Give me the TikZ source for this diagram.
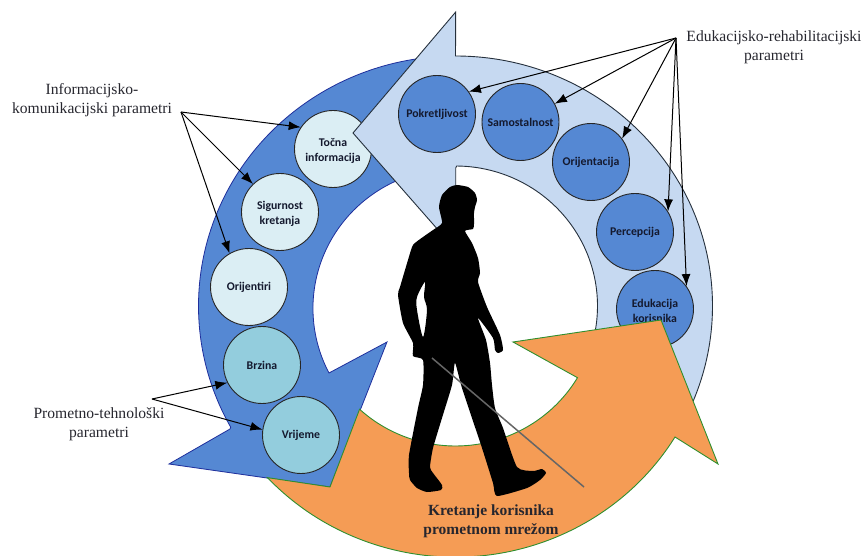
\documentclass[tikz,border=0pt]{standalone}
\usepackage{fontspec}
\setmainfont{Liberation Serif}
\newfontfamily\circfont{Carlito}
\usetikzlibrary{arrows.meta}
\definecolor{bluefill}{HTML}{5588D3}
\definecolor{blueedge}{HTML}{1F2F9C}
\definecolor{lightfill}{HTML}{C6D9F1}
\definecolor{lightedge}{HTML}{25303C}
\definecolor{palefill}{HTML}{DBEEF4}
\definecolor{tealfill}{HTML}{93CDDD}
\definecolor{orangefill}{HTML}{F59C55}
\definecolor{greenedge}{HTML}{2F8F2F}
\definecolor{labelink}{HTML}{26262E}
\definecolor{circink}{HTML}{14192E}
\newcommand{\dropline}{\rule{0pt}{11.5pt}}
\tikzset{
  disc/.style={circle,draw=black!85,line width=0.9pt,minimum size=77pt,inner sep=0pt,align=center,
    text=circink,font=\circfont\bfseries\fontsize{11.8}{15}\selectfont},
  discpale/.style={disc,fill=palefill},
  discteal/.style={disc,fill=tealfill},
  discblue/.style={disc,fill=bluefill},
  caption/.style={align=center,text=labelink,font=\fontsize{15.6}{19.3}\selectfont,inner sep=0pt},
  boldcaption/.style={align=center,text=labelink,font=\bfseries\fontsize{15.5}{19}\selectfont,inner sep=0pt},
  pointer/.style={-{Latex[length=12pt,width=9pt]},line width=1pt,black}
}
\begin{document}
\begin{tikzpicture}[x=1pt,y=-1pt]
\useasboundingbox (0,0) rectangle (863,556);
% blue arrow
\draw[fill=bluefill,draw=blueedge,line width=0.8pt,line join=miter]
  ({455.5+257*cos(265)},{306+250*sin(265)}) arc[start angle=265,end angle=151,x radius=257,y radius=250]
  -- (230,429) -- (169,464) -- (330,487) -- (387,342) -- (329,373)
  arc[start angle=152.5,end angle=250,x radius=142,y radius=140] -- cycle;
\node[discpale] (tocna) at (333,149) {\dropline Točna\\informacija};
\node[discpale] (sigurnost) at (280,212) {\dropline Sigurnost\\kretanja};
% light arrow
\draw[fill=lightfill,draw=lightedge,line width=0.9pt,line join=miter]
  (455.5,56) arc[start angle=-90,end angle=27,x radius=257,y radius=250]
  -- ({455.5+142*cos(25)},{306+140*sin(25)}) arc[start angle=25,end angle=-89.5,x radius=142,y radius=140]
  -- (455.7,168) -- (455.7,250) -- (353,133) -- (455.7,12) -- cycle;
\node[discblue] (pokret) at (437,114) {Pokretljivost};
\node[discblue] (samost) at (520.5,122) {Samostalnost};
\node[discblue] (orijentacija) at (591,162) {Orijentacija};
\node[discblue] (percepcija) at (635,232) {Percepcija};
\node[discblue] (edukacija) at (655,309) {\dropline Edukacija\\korisnika};
% orange arrow
\draw[fill=orangefill,draw=greenedge,line width=0.9pt,line join=miter]
  ({455.5+142*cos(132.5)},{306+140*sin(132.5)}) arc[start angle=132.5,end angle=30.8,x radius=142,y radius=140]
  -- (513,342) -- (661,320) -- (718,464) -- (675,437)
  arc[start angle=31.3,end angle=137,x radius=257,y radius=250]
  -- (330,487) -- cycle;
\node[discpale] (orijentiri) at (249,287) {Orijentiri};
\node[discteal] (brzina) at (262,365) {Brzina};
\node[discteal] (vrijeme) at (301,435) {Vrijeme};
% walking figure
\fill[black,even odd rule]
  plot[smooth cycle,tension=0.35] coordinates {
    (457,185) (468,187) (475,193) (477,200) (475,207) (474,213) (474,224) (473,229) (465,231)
    (472,243) (478,258) (480,273) (478,282) (487,307) (500,335) (503,350) (498,353) (495,350)
    (493,338) (478,318) (486,340) (490,363) (492,385) (495,408) (503,428) (517,467) (533,471) (542,469)
    (546,473) (540,480) (527,488) (497,496) (493,483) (482,448) (462,388) (455,363)
    (452,385) (442,418) (433,448) (430,467) (433,473) (442,485) (441,490) (427,492) (417,488) (410,480) (409,473)
    (409,455) (418,408) (423,385) (423,360) (413,356) (413,343) (403,323) (398,295) (400,287)
    (408,260) (413,245) (423,237) (433,230) (442,223) (439,207) (442,195) (450,187)}
  plot[smooth cycle,tension=0.5] coordinates {
    (425,282) (417,297) (417,310) (423,337) (427,310) (424,297)};
\coordinate (canetop) at (432,358);
\coordinate (caneend) at (584,487);
\draw[line width=1.5pt,black!60] (canetop) -- (caneend);
% captions
\node[caption] (info) at (92,100.5) {Informacijsko-\\komunikacijski parametri};
\node[caption] (promet) at (99,424) {Prometno-tehnološki\\parametri};
\node[caption] (edu) at (774,47.5) {Edukacijsko-rehabilitacijski\\parametri};
\node[boldcaption] (kretanje) at (491,521) {Kretanje korisnika\\prometnom mrežom};
% pointers
\coordinate (infosrc) at (181,112);
\coordinate (edusrc) at (676,38);
\coordinate (promsrc) at (152,399);
\draw[pointer] (infosrc) -- (tocna.146);
\draw[pointer] (infosrc) -- (sigurnost.134);
\draw[pointer] (infosrc) -- (orijentiri.120);
\draw[pointer] (edusrc) -- (pokret.35);
\draw[pointer] (edusrc) -- (samost.28);
\draw[pointer] (edusrc) -- (orijentacija.37);
\draw[pointer] (edusrc) -- (percepcija.32);
\draw[pointer] (edusrc) -- (edukacija.36);
\draw[pointer] (promsrc) -- (brzina.207);
\draw[pointer] (promsrc) -- (vrijeme.172);
\end{tikzpicture}
\end{document}
